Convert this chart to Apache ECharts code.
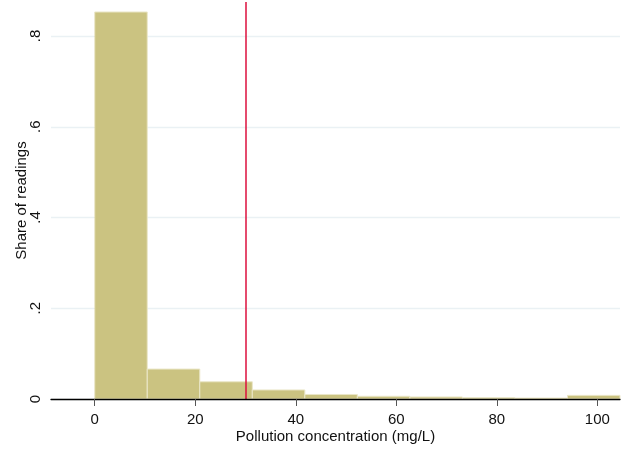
<!DOCTYPE html>
<html><head><meta charset="utf-8">
<script src="https://cdn.jsdelivr.net/npm/echarts@6/dist/echarts.min.js"></script>
<style>html,body{margin:0;padding:0;background:#fff}#c{width:630px;height:451px}</style>
</head><body><div id="c"></div>
<script>
const binStarts = [0, 10.45, 20.9, 31.35, 41.8, 52.25, 62.7, 73.15, 83.6, 94.05];
const binWidth = 10.45;
const shares = [0.853, 0.066, 0.038, 0.020, 0.010, 0.006, 0.0045, 0.003, 0.002, 0.008];
const xTicks = [0, 20, 40, 60, 80, 100];
const yTicks = [0, 0.2, 0.4, 0.6, 0.8];
const threshold = 30;

const data = binStarts.map((s, i) => [s, s + binWidth, shares[i]]);
const chart = echarts.init(document.getElementById('c'), null, {renderer: 'canvas'});
const font = 'Liberation Sans, Arial, sans-serif';
chart.setOption({
  animation: false,
  grid: {left: 51, right: 10, top: 2, bottom: 52, containLabel: false},
  xAxis: {
    type: 'value', min: -8.7, max: 104.5, z: 5,
    name: 'Pollution concentration (mg/L)', nameLocation: 'middle', nameGap: 30, nameMoveOverlap: false,
    nameTextStyle: {fontFamily: font, fontSize: 15, color: '#111'},
    axisLine: {show: true, lineStyle: {color: '#000', width: 1.3}},
    axisTick: {show: true, customValues: xTicks, length: 7, lineStyle: {color: '#555'}},
    axisLabel: {customValues: xTicks, fontFamily: font, fontSize: 15, color: '#111', margin: 13},
    splitLine: {show: false}
  },
  yAxis: {
    type: 'value', min: 0, max: 0.875,
    name: 'Share of readings', nameLocation: 'middle', nameGap: 22, nameRotate: 90, nameMoveOverlap: false,
    nameTextStyle: {fontFamily: font, fontSize: 15, color: '#111'},
    axisLine: {show: false},
    axisTick: {show: true, inside: true, customValues: yTicks, length: 8, lineStyle: {color: '#555'}},
    axisLabel: {customValues: yTicks, rotate: 90, fontFamily: font, fontSize: 15, color: '#111', margin: 8,
      formatter: v => v === 0 ? '0' : String(Math.round(v*10)/10).replace(/^0/, '')},
    splitLine: {show: true, lineStyle: {color: '#eaf1f4', width: 1.3}}
  },
  series: [{
    type: 'custom',
    data: data,
    encode: {x: [0, 1], y: 2},
    renderItem: function (params, api) {
      const p0 = api.coord([api.value(0), 0]);
      const p1 = api.coord([api.value(1), api.value(2)]);
      return {
        type: 'rect',
        shape: {x: p0[0], y: p1[1], width: p1[0] - p0[0], height: p0[1] - p1[1]},
        style: {fill: '#cbc381', stroke: '#ebe7c9', lineWidth: 1}
      };
    },
    z: 2,
    markLine: {
      silent: true, symbol: 'none', label: {show: false},
      lineStyle: {color: '#dc0f3c', width: 1.5, type: 'solid'},
      data: [{xAxis: threshold}]
    }
  }]
});
</script></body></html>
